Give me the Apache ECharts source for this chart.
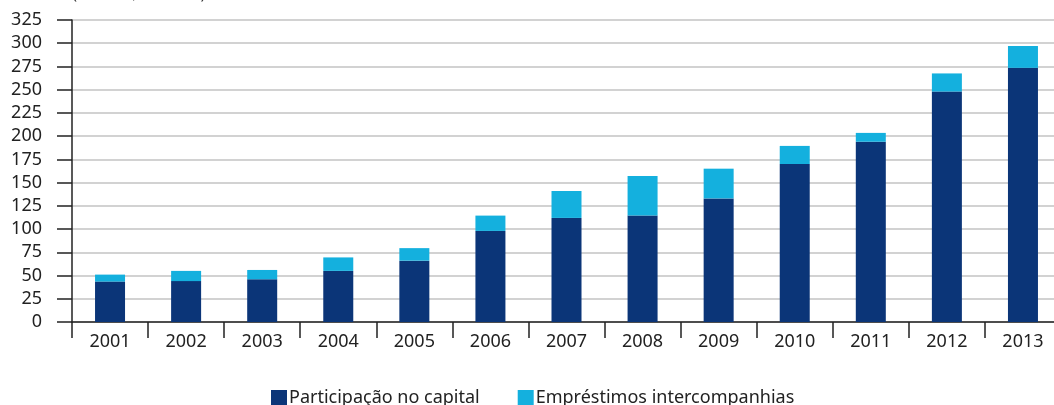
<!DOCTYPE html>
<html>
<head>
<meta charset="utf-8">
<script src="https://cdn.jsdelivr.net/npm/echarts@6/dist/echarts.min.js"></script>
<style>
  html, body { margin: 0; padding: 0; background: #fff; }
  #chart { width: 1054px; height: 405px; }
</style>
</head>
<body>
<div id="chart"></div>
<script>
// anos
const years = ['2001', '2002', '2003', '2004', '2005', '2006', '2007', '2008', '2009', '2010', '2011', '2012', '2013'];
// Participação no capital
const capital = [43.5, 44, 46, 55, 66, 98, 112, 114.5, 133, 170, 194, 248, 273.5];
// Empréstimos intercompanhias
const emprestimos = [7.5, 11, 10, 14.5, 13.5, 16.5, 29, 42.5, 32, 19.5, 9.5, 19.5, 23.5];
const yTicks = { min: 0, max: 325, interval: 25 };

const font = '"Noto Sans", "DejaVu Sans", sans-serif';
const chart = echarts.init(document.getElementById('chart'));

chart.setOption({
    animation: false,
    textStyle: { fontFamily: font },
    graphic: [{
        type: 'text',
        left: 72,
        top: -14,
        style: { text: '(Em US$ bilhões)', font: '17px ' + font, fill: '#333' }
    }],
    grid: {
        left: 72,
        top: 20,
        width: 989,
        bottom: 83,
        containLabel: false,
        outerBoundsMode: 'none'
    },
    legend: {
        left: 271,
        top: 389,
        padding: 0,
        icon: 'rect',
        itemWidth: 16,
        itemHeight: 16,
        itemGap: 38,
        textStyle: { fontSize: 18, color: '#222', fontFamily: font, padding: [0, 0, 0, -3] },
        data: ['Participação no capital', 'Empréstimos intercompanhias']
    },
    xAxis: {
        type: 'category',
        data: years,
        axisLine: { lineStyle: { color: '#222', width: 1.5 } },
        axisTick: { show: true, length: 16, lineStyle: { color: '#222', width: 1.5 } },
        axisLabel: { fontSize: 18, color: '#222', margin: 11 }
    },
    yAxis: {
        type: 'value',
        min: yTicks.min,
        max: yTicks.max,
        interval: yTicks.interval,
        axisLine: { show: true, lineStyle: { color: '#222', width: 1.5 } },
        axisTick: { show: true, length: 15, lineStyle: { color: '#222', width: 1.5 } },
        axisLabel: { fontSize: 18, color: '#222', margin: 30, align: 'right' },
        splitLine: { lineStyle: { color: '#d2d2d2', width: 2 } }
    },
    series: [{
        name: 'Participação no capital',
        type: 'bar',
        stack: 'total',
        barWidth: 30,
        itemStyle: { color: '#0b3578' },
        data: capital
    }, {
        name: 'Empréstimos intercompanhias',
        type: 'bar',
        stack: 'total',
        barWidth: 30,
        itemStyle: { color: '#14b0de' },
        data: emprestimos
    }]
});
</script>
</body>
</html>
